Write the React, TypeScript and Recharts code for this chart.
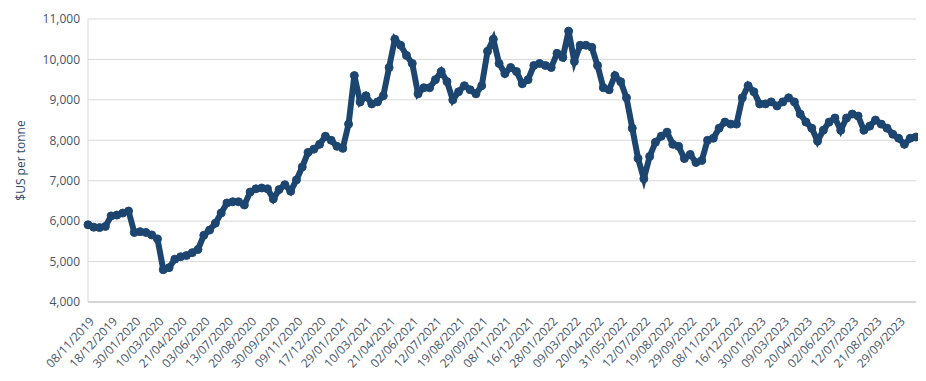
import React from 'react'
import { LineChart, Line, XAxis, YAxis, CartesianGrid } from 'recharts'

// one label every 4 points
const tickLabels = [
  '08/11/2019', '18/12/2019', '30/01/2020', '10/03/2020', '21/04/2020', '03/06/2020',
  '13/07/2020', '20/08/2020', '30/09/2020', '09/11/2020', '17/12/2020', '29/01/2021',
  '10/03/2021', '21/04/2021', '02/06/2021', '12/07/2021', '19/08/2021', '29/09/2021',
  '08/11/2021', '16/12/2021', '28/01/2022', '09/03/2022', '20/04/2022', '31/05/2022',
  '12/07/2022', '19/08/2022', '29/09/2022', '08/11/2022', '16/12/2022', '30/01/2023',
  '09/03/2023', '20/04/2023', '02/06/2023', '12/07/2023', '21/08/2023', '29/09/2023',
]

// $US per tonne, roughly weekly
const prices = [
  5910, 5850, 5840, 5870, 6130, 6150, 6200, 6250,
  5720, 5740, 5720, 5660, 5560, 4800, 4850, 5060,
  5120, 5150, 5220, 5300, 5650, 5780, 5950, 6200,
  6450, 6480, 6480, 6400, 6720, 6800, 6820, 6800,
  6550, 6780, 6900, 6740, 7020, 7340, 7700, 7780,
  7900, 8100, 8000, 7850, 7800, 8400, 9600, 8950,
  9100, 8900, 8950, 9100, 9800, 10500, 10350, 10100,
  9900, 9150, 9300, 9300, 9500, 9700, 9450, 9000,
  9200, 9350, 9250, 9150, 9350, 10200, 10500, 9900,
  9650, 9800, 9700, 9400, 9500, 9850, 9900, 9850,
  9800, 10150, 10050, 10700, 9950, 10350, 10350, 10300,
  9850, 9300, 9250, 9600, 9450, 9050, 8300, 7550,
  7050, 7600, 7950, 8100, 8200, 7900, 7850, 7550,
  7650, 7450, 7500, 8000, 8050, 8300, 8450, 8400,
  8400, 9050, 9350, 9200, 8900, 8900, 8950, 8850,
  8950, 9050, 8950, 8650, 8450, 8300, 7980, 8250,
  8450, 8550, 8250, 8550, 8650, 8600, 8250, 8350,
  8500, 8400, 8300, 8150, 8050, 7900, 8050, 8080,
]

const yTicks = [4000, 5000, 6000, 7000, 8000, 9000, 10000, 11000]

const data = prices.map((price, i) => ({
  date: i % 4 === 0 ? tickLabels[i / 4] : '',
  price,
}))

const textColor = '#44546a'
const lineColor = '#1c4570'

const DateTick = (props: any) => {
  const { x, y, payload } = props
  if (!payload.value) return null
  return (
    <g transform={`translate(${x + 7},${y + 12})`}>
      <text
        textAnchor="end"
        transform="rotate(-47)"
        fill={textColor}
        fontSize={12}
        fontFamily="'Open Sans', sans-serif"
      >
        {payload.value}
      </text>
    </g>
  )
}

export default function App() {
  return (
    <LineChart
      width={918}
      height={373}
      data={data}
      margin={{ top: 11, right: 10, bottom: 0, left: 4 }}
    >
      <CartesianGrid vertical={false} stroke="#d9d9d9" />
      <XAxis
        dataKey="date"
        interval={3}
        tickLine={false}
        axisLine={{ stroke: '#bfbfbf' }}
        height={79}
        tick={<DateTick />}
      />
      <YAxis
        domain={[4000, 11000]}
        ticks={yTicks}
        width={76}
        tickLine={false}
        axisLine={{ stroke: '#d9d9d9' }}
        tickFormatter={(v: number) => v.toLocaleString('en-US')}
        tick={{ fill: textColor, fontSize: 12, fontFamily: "'Open Sans', sans-serif" }}
        label={{
          value: '$US per tonne',
          angle: -90,
          position: 'insideLeft',
          offset: 9,
          style: {
            textAnchor: 'middle',
            fill: '#2f4a6a',
            fontSize: 12,
            fontFamily: "'Open Sans', sans-serif",
          },
        }}
      />
      <Line
        type="linear"
        dataKey="price"
        stroke={lineColor}
        strokeWidth={6}
        dot={{ r: 4, fill: lineColor, stroke: lineColor, strokeWidth: 1 }}
        isAnimationActive={false}
      />
    </LineChart>
  )
}
